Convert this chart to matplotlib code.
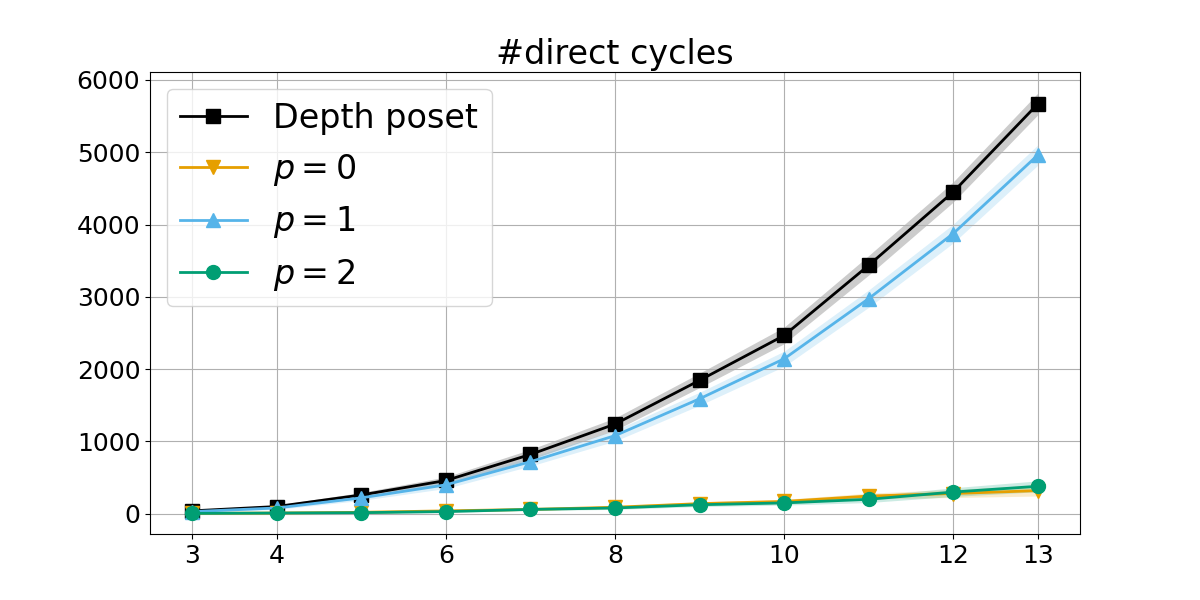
import numpy as np
import matplotlib
matplotlib.use("Agg")
import matplotlib.pyplot as plt

n = [3, 4, 5, 6, 7, 8, 9, 10, 11, 12, 13]

depth_mean = [40, 100, 260, 460, 820, 1240, 1845, 2466, 3436, 4450, 5667]
depth_std = [15, 20, 35, 50, 70, 85, 100, 115, 135, 140, 150]

p0_mean = [5, 10, 20, 40, 60, 90, 140, 170, 245, 280, 320]
p0_std = [5, 6, 10, 12, 15, 20, 25, 30, 40, 55, 75]

p1_mean = [30, 80, 220, 400, 720, 1080, 1590, 2143, 2975, 3875, 4960]
p1_std = [15, 20, 35, 50, 60, 75, 90, 105, 120, 130, 140]

p2_mean = [5, 10, 15, 30, 60, 80, 125, 150, 200, 300, 380]
p2_std = [5, 6, 10, 12, 15, 20, 25, 30, 45, 60, 75]

series = [
    ("Depth poset", depth_mean, depth_std, "black", "s"),
    ("$p = 0$", p0_mean, p0_std, "#E69F00", "v"),
    ("$p = 1$", p1_mean, p1_std, "#56B4E9", "^"),
    ("$p = 2$", p2_mean, p2_std, "#009E73", "o"),
]

fig, ax = plt.subplots(figsize=(12, 6), dpi=100)
for label, m, s, c, mk in series:
    m = np.array(m)
    s = np.array(s)
    ax.plot(n, m, color=c, marker=mk, markersize=10, linewidth=2, label=label)
    ax.fill_between(n, m - s, m + s, color=c, alpha=0.2, linewidth=0)

ax.set_title("#direct cycles", fontsize=24)
ax.set_xticks([3, 4, 6, 8, 10, 12, 13])
ax.set_xlim(2.5, 13.5)
ax.set_ylim(-280, 6110)
ax.tick_params(labelsize=18)
ax.grid(True)
ax.legend(fontsize=24, loc="upper left")

fig.savefig("out.png")
